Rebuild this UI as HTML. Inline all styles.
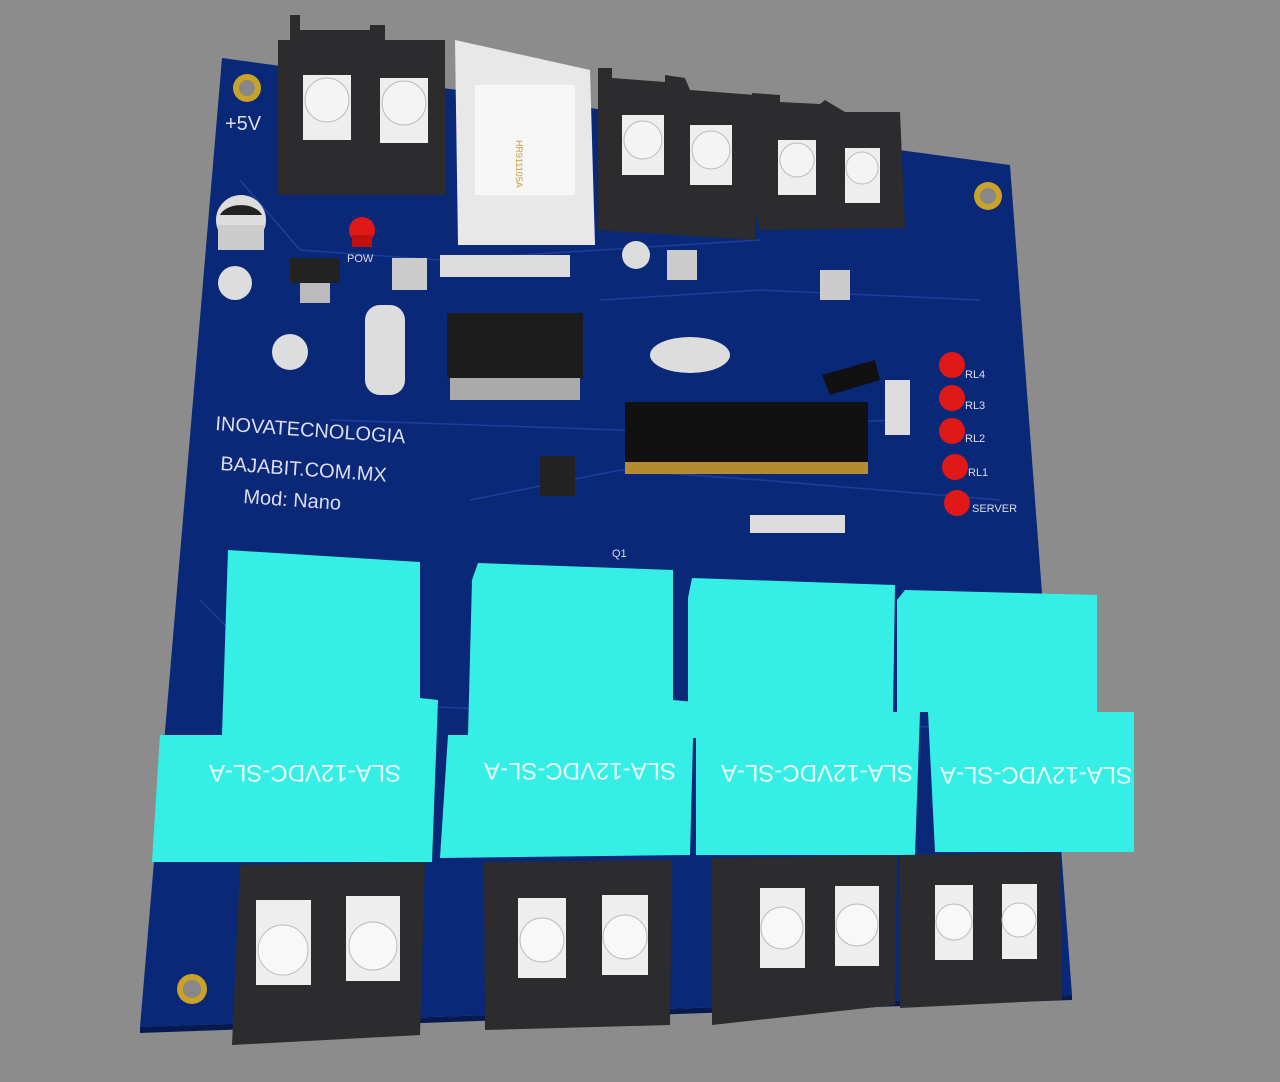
<!DOCTYPE html><html><head><style>body{margin:0;background:#8c8c8c}svg{display:block}text{font-family:"Liberation Sans",sans-serif}</style></head><body>
<svg width="1280" height="1082" viewBox="0 0 1280 1082">
<rect width="1280" height="1082" fill="#8c8c8c"/>
<polygon points="222,58 1010,165 1072,995 140,1027" fill="#0a2878"/>
<polygon points="140,1027 1072,995 1072,1000 140,1033" fill="#061a50"/>
<g fill="none" stroke="#1d3f9a" stroke-width="1.5">
<path d="M240,180 L300,250 L440,260 L600,250 L760,240"/><path d="M330,420 L620,430 L900,420"/><path d="M470,500 L620,470 L760,480 L1000,500"/><path d="M200,600 L300,700 L700,720 L1030,730"/><path d="M600,300 L760,290 L980,300"/>
</g>
<g fill="#c9a227"><circle cx="247" cy="88" r="14"/><circle cx="988" cy="196" r="14"/><circle cx="192" cy="989" r="15"/></g>
<g fill="#888"><circle cx="247" cy="88" r="8"/><circle cx="988" cy="196" r="8"/><circle cx="192" cy="989" r="9"/></g>
<text x="225" y="130" fill="#dde" font-size="20">+5V</text>
<text x="215" y="430" fill="#dde" font-size="20" transform="rotate(4 215 430)">INOVATECNOLOGIA</text>
<text x="220" y="470" fill="#dde" font-size="20" transform="rotate(4 220 470)">BAJABIT.COM.MX</text>
<text x="243" y="503" fill="#dde" font-size="20" transform="rotate(4 243 503)">Mod: Nano</text>
<g>
<polygon points="290,15 300,15 300,30 370,30 370,25 385,25 385,40 435,40 445,40 445,195 278,195 278,40 290,40" fill="#2c2c2e"/>
<rect x="303" y="75" width="48" height="65" fill="#eee"/><circle cx="327" cy="100" r="22" fill="#f4f4f4" stroke="#bbb"/>
<rect x="380" y="78" width="48" height="65" fill="#eee"/><circle cx="404" cy="103" r="22" fill="#f4f4f4" stroke="#bbb"/>
<polygon points="455,40 590,70 595,245 458,245" fill="#e8e8e8"/><rect x="475" y="85" width="100" height="110" fill="#f6f6f6"/><text x="516" y="140" fill="#c8a040" font-size="9" transform="rotate(90 516 140)">HR911105A</text>
<polygon points="598,68 612,68 612,78 665,82 665,75 685,78 690,90 755,95 755,240 598,230" fill="#2c2c2e"/>
<rect x="622" y="115" width="42" height="60" fill="#eee"/><circle cx="643" cy="140" r="19" fill="#f4f4f4" stroke="#bbb"/>
<rect x="690" y="125" width="42" height="60" fill="#eee"/><circle cx="711" cy="150" r="19" fill="#f4f4f4" stroke="#bbb"/>
<polygon points="752,93 780,95 780,102 820,104 825,100 845,112 900,112 905,228 760,230 752,200" fill="#2c2c2e"/>
<rect x="778" y="140" width="38" height="55" fill="#eee"/><circle cx="797" cy="160" r="17" fill="#f4f4f4" stroke="#bbb"/>
<rect x="845" y="148" width="35" height="55" fill="#eee"/><circle cx="862" cy="168" r="16" fill="#f4f4f4" stroke="#bbb"/>
</g>
<circle cx="241" cy="220" r="25" fill="#ddd"/><path d="M220,215 a22,14 0 0 1 42,0z" fill="#222"/><rect x="218" y="225" width="46" height="25" fill="#ccc"/>
<circle cx="235" cy="283" r="17" fill="#ddd"/><circle cx="290" cy="352" r="18" fill="#ddd"/><circle cx="636" cy="255" r="14" fill="#ddd"/>
<rect x="290" y="258" width="50" height="25" fill="#222"/><rect x="300" y="283" width="30" height="20" fill="#bbb"/>
<circle cx="362" cy="230" r="13" fill="#e01818"/><rect x="352" y="235" width="20" height="12" fill="#c01010"/>
<rect x="392" y="258" width="35" height="32" fill="#ccc"/><rect x="667" y="250" width="30" height="30" fill="#ccc"/><rect x="820" y="270" width="30" height="30" fill="#ccc"/>
<rect x="365" y="305" width="40" height="90" rx="15" fill="#ddd"/>
<rect x="447" y="313" width="136" height="65" fill="#1c1c1c"/><rect x="450" y="378" width="130" height="22" fill="#aaa"/>
<ellipse cx="690" cy="355" rx="40" ry="18" fill="#ddd"/>
<rect x="625" y="402" width="243" height="62" fill="#111"/><rect x="625" y="462" width="243" height="12" fill="#b58a30"/>
<rect x="540" y="456" width="35" height="40" fill="#222"/>
<polygon points="822,375 875,360 880,380 830,395" fill="#111"/>
<g fill="#e01818"><circle cx="952" cy="365" r="13"/><circle cx="952" cy="398" r="13"/><circle cx="952" cy="431" r="13"/><circle cx="955" cy="467" r="13"/><circle cx="957" cy="503" r="13"/></g>
<g fill="#dde" font-size="11"><text x="965" y="378">RL4</text><text x="965" y="409">RL3</text><text x="965" y="442">RL2</text><text x="968" y="476">RL1</text><text x="972" y="512">SERVER</text><text x="347" y="262">POW</text><text x="612" y="557">Q1</text></g>
<g fill="#ddd"><rect x="440" y="255" width="130" height="22"/><rect x="750" y="515" width="95" height="18"/><rect x="885" y="380" width="25" height="55"/></g>
<g fill="#35efe6">
<polygon points="228,550 420,562 420,698 438,700 432,862 152,862 160,735 222,735"/>
<polygon points="478,563 673,570 673,700 694,702 690,855 440,858 448,735 468,735 472,580"/>
<polygon points="692,578 895,585 893,712 920,712 915,855 696,855 696,738 688,738 688,598"/>
<polygon points="905,590 1097,595 1097,712 1134,712 1134,852 935,852 928,712 897,712 897,600"/>
</g>
<g fill="#e8fffd" font-size="24" text-anchor="middle">
<text x="305" y="765" transform="rotate(180 305 765)">SLA-12VDC-SL-A</text>
<text x="580" y="763" transform="rotate(180 580 763)">SLA-12VDC-SL-A</text>
<text x="817" y="765" transform="rotate(180 817 765)">SLA-12VDC-SL-A</text>
<text x="1036" y="767" transform="rotate(180 1036 767)">SLA-12VDC-SL-A</text>
</g>
<g fill="#2c2c2e">
<polygon points="240,865 425,862 420,1035 232,1045"/><polygon points="484,862 672,860 670,1025 485,1030"/><polygon points="712,858 897,855 895,1005 712,1025"/><polygon points="900,855 1060,853 1062,1000 900,1008"/></g>
<g fill="#eee"><rect x="256" y="900" width="55" height="85"/><rect x="346" y="896" width="54" height="85"/><rect x="518" y="898" width="48" height="80"/><rect x="602" y="895" width="46" height="80"/><rect x="760" y="888" width="45" height="80"/><rect x="835" y="886" width="44" height="80"/><rect x="935" y="885" width="38" height="75"/><rect x="1002" y="884" width="35" height="75"/></g>
<g fill="#f8f8f8" stroke="#bbb"><circle cx="283" cy="950" r="25"/><circle cx="373" cy="946" r="24"/><circle cx="542" cy="940" r="22"/><circle cx="625" cy="937" r="22"/><circle cx="782" cy="928" r="21"/><circle cx="857" cy="925" r="21"/><circle cx="954" cy="922" r="18"/><circle cx="1019" cy="920" r="17"/></g>
</svg></body></html>
